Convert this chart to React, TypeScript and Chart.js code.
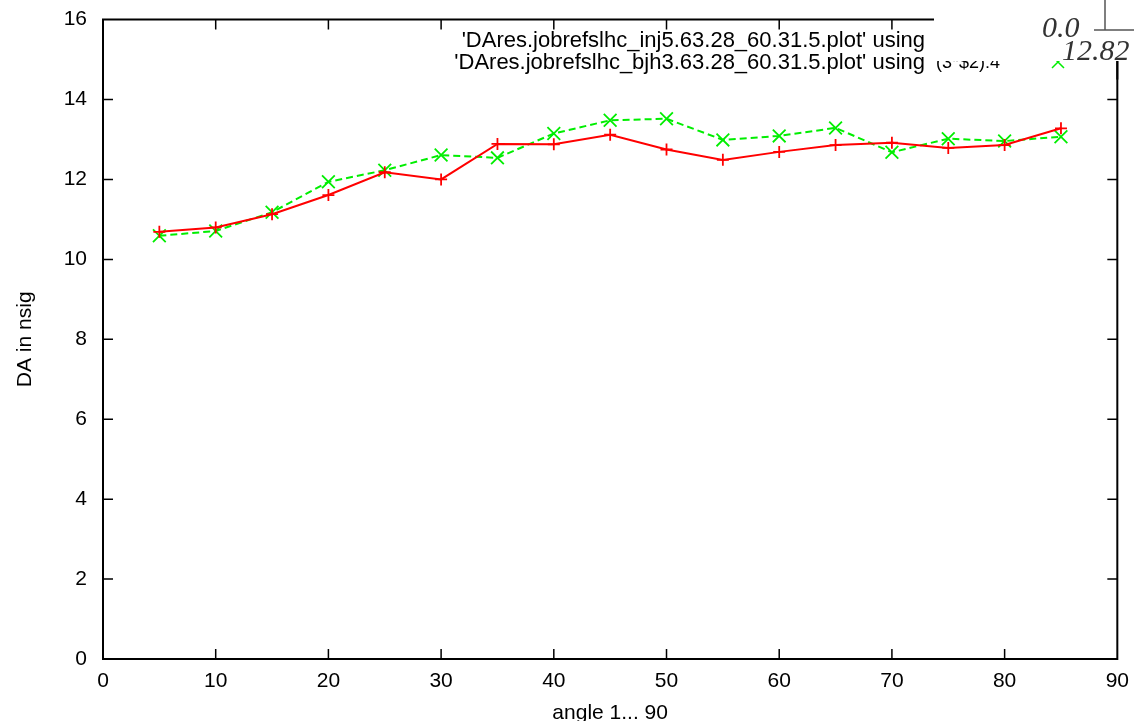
import React, { useEffect, useRef } from "react";
import { Chart, registerables } from "chart.js";

Chart.register(...registerables);

const angles = [5, 10, 15, 20, 25, 30, 35, 40, 45, 50, 55, 60, 65, 70, 75, 80, 85];
const injValues = [10.69, 10.8, 11.13, 11.61, 12.18, 12.0, 12.89, 12.88, 13.12, 12.75, 12.49, 12.69, 12.86, 12.92, 12.79, 12.86, 13.28];
const bjhValues = [10.59, 10.71, 11.18, 11.94, 12.23, 12.61, 12.54, 13.15, 13.48, 13.52, 12.99, 13.09, 13.29, 12.68, 13.02, 12.96, 13.07];
const xTicks = [0, 10, 20, 30, 40, 50, 60, 70, 80, 90];
const yTicks = [0, 2, 4, 6, 8, 10, 12, 14, 16];
const legendLabels = [
  "'DAres.jobrefslhc_inj5.63.28_60.31.5.plot' using",
  "'DAres.jobrefslhc_bjh3.63.28_60.31.5.plot' using",
];
const legendTail = "(3*$2):4";
const cornerTop = "0.0";
const cornerBottom = "12.82";
const xTitle = "angle 1... 90";
const yTitle = "DA in nsig";

const FONT = "'Liberation Sans', Arial, Helvetica, sans-serif";
const OFF_Y = 9; // canvas is shifted up by this many px on the page
const CANVAS_W = 1139;
const CANVAS_H = 730;

const framePlugin = {
  id: "gnuplotFrame",
  afterDraw(chart: any) {
    const ctx = chart.ctx as CanvasRenderingContext2D;
    const { left, right, top, bottom } = chart.chartArea;
    const xs = chart.scales.x;
    const ys = chart.scales.y;
    ctx.save();
    ctx.strokeStyle = "#000";
    ctx.lineWidth = 2;
    ctx.lineCap = "butt";
    ctx.beginPath();
    ctx.rect(left, top, right - left, bottom - top);
    ctx.stroke();
    const tl = 10;
    ctx.lineWidth = 1.5;
    ctx.beginPath();
    xs.ticks.forEach((t: any, i: number) => {
      const px = xs.getPixelForTick(i);
      if (t.value === xs.min || t.value === xs.max) return;
      ctx.moveTo(px, bottom);
      ctx.lineTo(px, bottom - tl);
      ctx.moveTo(px, top);
      ctx.lineTo(px, top + tl);
    });
    ys.ticks.forEach((t: any, i: number) => {
      const py = ys.getPixelForTick(i);
      if (t.value === ys.min || t.value === ys.max) return;
      ctx.moveTo(left, py);
      ctx.lineTo(left + tl, py);
      ctx.moveTo(right, py);
      ctx.lineTo(right - tl, py);
    });
    ctx.stroke();

    // overlays in page coordinates
    ctx.translate(0, OFF_Y);
    ctx.fillStyle = "#000";
    ctx.font = `22px ${FONT}`;
    ctx.textAlign = "right";
    ctx.textBaseline = "middle";
    ctx.fillText(legendLabels[0], 925, 41);
    ctx.fillText(legendLabels[1], 925, 63);
    ctx.font = `18px ${FONT}`;
    ctx.textAlign = "left";
    ctx.fillText(legendTail, 936, 63);

    // partial green legend sample marker
    ctx.strokeStyle = "#00ee00";
    ctx.lineWidth = 1.5;
    ctx.beginPath();
    ctx.moveTo(1052, 56);
    ctx.lineTo(1064, 68);
    ctx.moveTo(1064, 56);
    ctx.lineTo(1052, 68);
    ctx.stroke();

    // white cover box (top right)
    ctx.fillStyle = "#fff";
    ctx.fillRect(934, -OFF_Y, 210, 61 + OFF_Y);

    // corner overlay
    ctx.strokeStyle = "#555";
    ctx.lineWidth = 1.5;
    ctx.beginPath();
    ctx.moveTo(1105, -OFF_Y);
    ctx.lineTo(1105, 30);
    ctx.moveTo(1094, 30);
    ctx.lineTo(1140, 30);
    ctx.stroke();
    ctx.fillStyle = "#333";
    ctx.font = `italic 30px 'Liberation Serif', 'DejaVu Serif', serif`;
    ctx.textAlign = "left";
    ctx.textBaseline = "alphabetic";
    ctx.fillText(cornerTop, 1042, 37);
    ctx.fillText(cornerBottom, 1062, 60);
    ctx.translate(0, -OFF_Y);
    // right axis continuation below cover
    ctx.strokeStyle = "#000";
    ctx.lineWidth = 2;
    ctx.beginPath();
    ctx.moveTo(right, 61 + OFF_Y);
    ctx.lineTo(right, top + 60);
    ctx.stroke();
    ctx.restore();
  },
};

export default function App() {
  const ref = useRef<HTMLCanvasElement>(null);
  useEffect(() => {
    document.body.style.margin = "0";
    if (!ref.current) return;
    const chart = new Chart(ref.current, {
      type: "line",
      data: {
        datasets: [
          {
            label: legendLabels[0],
            data: angles.map((a, i) => ({ x: a, y: injValues[i] })),
            borderColor: "#ff0000",
            backgroundColor: "#ff0000",
            borderWidth: 2,
            pointStyle: "cross",
            pointRadius: 6,
            pointBorderWidth: 1.8,
            fill: false,
            tension: 0,
          },
          {
            label: legendLabels[1],
            data: angles.map((a, i) => ({ x: a, y: bjhValues[i] })),
            borderColor: "#00ee00",
            backgroundColor: "#00ee00",
            borderWidth: 2,
            borderDash: [7, 4],
            pointStyle: "crossRot",
            pointRadius: 9,
            pointBorderWidth: 1.8,
            fill: false,
            tension: 0,
          },
        ],
      },
      options: {
        responsive: false,
        animation: false,
        devicePixelRatio: 1,
        layout: { padding: { top: 11, right: 11, left: 0, bottom: 0 } },
        plugins: { legend: { display: false }, tooltip: { enabled: false }, title: { display: false } },
        scales: {
          x: {
            type: "linear",
            min: 0,
            max: 90,
            afterBuildTicks: (s: any) => {
              s.ticks = xTicks.map((v) => ({ value: v }));
            },
            grid: { display: false, drawTicks: false },
            border: { display: false },
            ticks: { color: "#000", font: { family: FONT, size: 21 }, padding: 10, maxRotation: 0 },
            title: {
              display: true,
              text: xTitle,
              color: "#000",
              font: { family: FONT, size: 21, lineHeight: 0.75 },
              padding: { top: 0, bottom: 0 },
            },
            afterFit: (s: any) => {
              s.height = 62;
            },
          },
          y: {
            type: "linear",
            min: 0,
            max: 16,
            afterBuildTicks: (s: any) => {
              s.ticks = yTicks.map((v) => ({ value: v }));
            },
            grid: { display: false, drawTicks: false },
            border: { display: false },
            ticks: { color: "#000", font: { family: FONT, size: 21 }, padding: 16 },
            title: {
              display: true,
              text: yTitle,
              color: "#000",
              font: { family: FONT, size: 21, lineHeight: 1.2 },
              padding: { top: 13, bottom: 0 },
            },
            afterFit: (s: any) => {
              s.width = 103;
            },
          },
        },
      },
      plugins: [framePlugin],
    });
    return () => chart.destroy();
  }, []);
  return (
    <div style={{ position: "fixed", left: 0, top: 0, width: 1134, height: 721, overflow: "hidden", background: "#fff" }}>
      <canvas
        ref={ref}
        width={CANVAS_W}
        height={CANVAS_H}
        style={{ position: "absolute", left: 0, top: -OFF_Y, display: "block" }}
      />
    </div>
  );
}
